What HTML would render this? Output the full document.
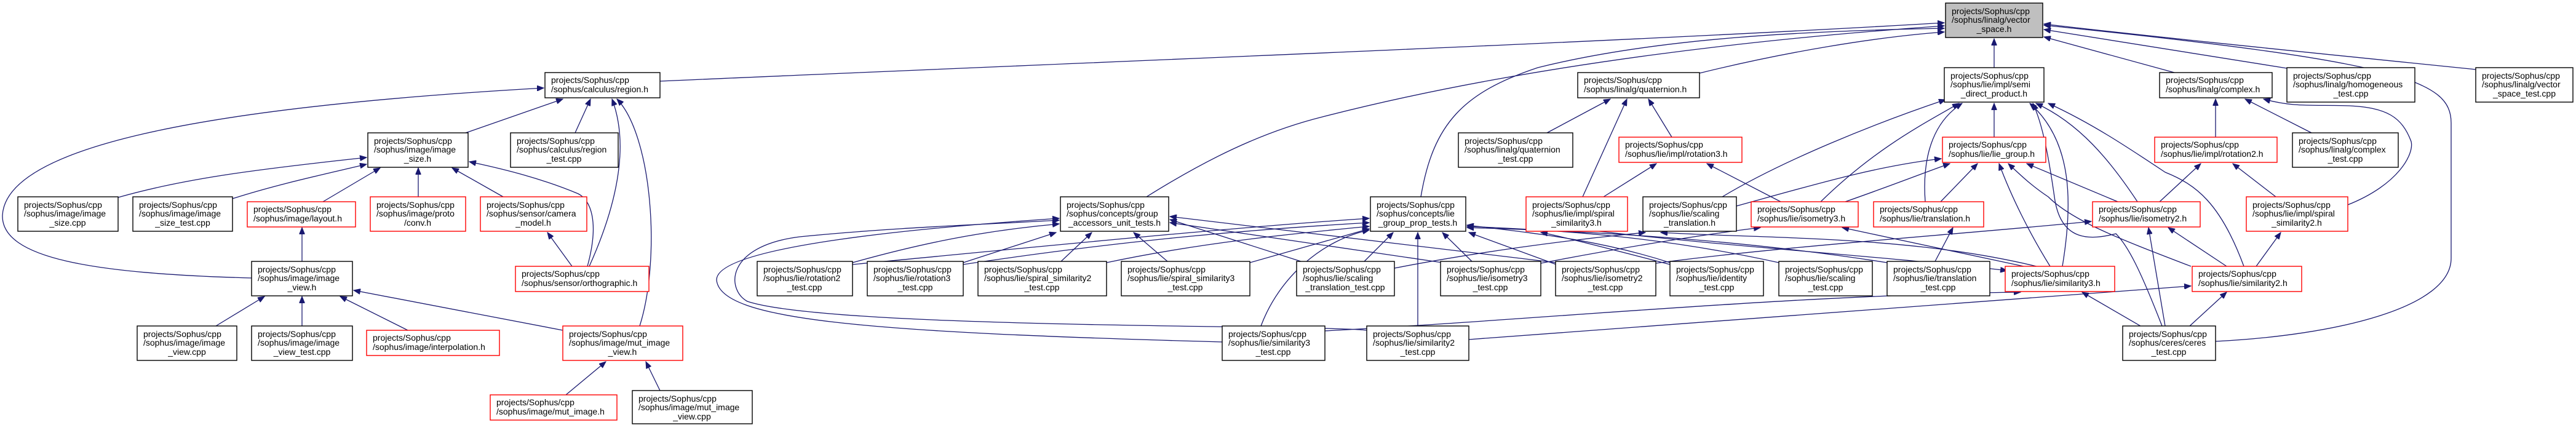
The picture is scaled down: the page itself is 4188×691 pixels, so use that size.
<!DOCTYPE html>
<html><head><meta charset="utf-8"><style>
html,body{margin:0;padding:0;background:#fff;}
svg{display:block;}
text{font-family:"Liberation Sans",sans-serif;font-size:14px;fill:#000;}
.e{fill:none;stroke:#191970;stroke-width:1.3;marker-end:url(#a);}
.b{fill:#fff;stroke:#000;stroke-width:1.4;}
.r{fill:#fff;stroke:#ff0000;stroke-width:1.4;}
.g{fill:#bfbfbf;stroke:#000;stroke-width:1.4;}
</style></head><body>
<svg width="4188" height="691" viewBox="0 0 4188 691" xmlns="http://www.w3.org/2000/svg">
<defs><marker id="a" markerUnits="userSpaceOnUse" markerWidth="12" markerHeight="9" refX="11" refY="4.5" orient="auto"><path d="M0,0 L11,4.5 L0,9 z" fill="#191970" stroke="#191970"/></marker></defs>
<rect width="4188" height="691" fill="#fff"/>
<g>
<!-- edges left cluster -->
<path class="e" d="M409,452 C150,445 2,420 4,350 C10,240 320,175 884,143"/>
<path class="e" d="M757,216 L915,161"/>
<path class="e" d="M935,216 L960,161"/>
<path class="e" d="M958,433 C1000,340 1025,240 995,161"/>
<path class="e" d="M1040,530 C1075,420 1060,220 1003,161"/>
<path class="e" d="M192,321 C300,290 420,275 596,256"/>
<path class="e" d="M378,323 C450,300 520,285 596,267"/>
<path class="e" d="M525,328 L618,273"/>
<path class="e" d="M680,320 L680,273"/>
<path class="e" d="M818,320 L735,273"/>
<path class="e" d="M955,433 C975,360 960,325 940,315 C880,290 820,275 763,263"/>
<path class="e" d="M930,433 L890,378"/>
<path class="e" d="M491,425 L491,370"/>
<path class="e" d="M351,530 L430,482"/>
<path class="e" d="M491,530 L491,482"/>
<path class="e" d="M663,537 L553,482"/>
<path class="e" d="M915,537 L575,472"/>
<path class="e" d="M920,642 L985,588"/>
<path class="e" d="M1073,635 L1050,588"/>
<!-- to vector_space -->
<path class="e" d="M1073,132 C1800,100 2600,70 3161,37"/>
<path class="e" d="M1864,320 C1960,260 2050,215 2150,190 C2500,100 2900,60 3161,42"/>
<path class="e" d="M2310,320 C2330,200 2380,150 2500,110 C2700,60 2950,50 3161,46"/>
<path class="e" d="M2763,119 C2900,85 3050,60 3161,52"/>
<path class="e" d="M3242,110 L3242,63"/>
<path class="e" d="M3535,118 L3323,60"/>
<path class="e" d="M3718,111 L3323,48"/>
<path class="e" d="M4025,113 C3800,90 3500,60 3323,39"/>
<path class="e" d="M3602,555 C3800,545 3985,500 3985,420 L3985,200 C3985,130 3900,100 3323,41"/>
<!-- group accessors -->
<path class="e" d="M1386,427 C1500,395 1600,375 1722,364"/>
<path class="e" d="M1566,427 L1717,378"/>
<path class="e" d="M1725,425 L1775,378"/>
<path class="e" d="M1898,425 L1843,378"/>
<path class="e" d="M1987,556 C1400,540 1170,520 1165,455 C1165,400 1500,370 1722,355"/>
<path class="e" d="M2222,537 C2150,528 1350,535 1215,490 C1180,470 1180,400 1300,385 C1450,370 1600,365 1722,358"/>
<path class="e" d="M2115,425 L1902,357"/>
<path class="e" d="M2345,427 L1902,362"/>
<path class="e" d="M2530,427 L1902,352"/>
<!-- lie_group_prop_tests -->
<path class="e" d="M1386,430 C1700,400 2000,370 2226,355"/>
<path class="e" d="M1566,430 C1800,395 2000,375 2226,362"/>
<path class="e" d="M1799,427 C1950,395 2100,380 2226,368"/>
<path class="e" d="M2032,427 L2226,372"/>
<path class="e" d="M2050,530 C2080,450 2150,390 2226,374"/>
<path class="e" d="M2218,425 L2265,378"/>
<path class="e" d="M2393,425 L2345,378"/>
<path class="e" d="M2305,530 L2305,378"/>
<path class="e" d="M2530,430 L2388,378"/>
<path class="e" d="M2715,427 C2600,390 2500,380 2385,366"/>
<path class="e" d="M2892,427 C2700,385 2550,375 2385,368"/>
<path class="e" d="M3068,427 C2800,385 2550,375 2385,370"/>
<!-- quaternion -->
<path class="e" d="M2515,216 L2618,161"/>
<path class="e" d="M2573,320 L2645,161"/>
<path class="e" d="M2718,223 L2680,161"/>
<path class="e" d="M2607,320 L2693,266"/>
<path class="e" d="M2895,328 L2775,266"/>
<!-- semi direct & lie group -->
<path class="e" d="M2800,320 C2900,260 3050,200 3163,162"/>
<path class="e" d="M2823,335 C2950,300 3050,270 3156,258"/>
<path class="e" d="M2960,328 C3050,240 3130,200 3185,168"/>
<path class="e" d="M3000,328 C3080,300 3130,280 3170,266"/>
<path class="e" d="M3130,328 C3125,260 3140,200 3190,168"/>
<path class="e" d="M3155,328 L3215,266"/>
<path class="e" d="M3242,223 L3242,168"/>
<path class="e" d="M3333,433 C3300,380 3270,320 3250,266"/>
<path class="e" d="M3353,433 C3370,330 3370,230 3300,168"/>
<path class="e" d="M3443,328 L3295,266"/>
<path class="e" d="M3475,328 C3430,260 3380,200 3310,168"/>
<path class="e" d="M3562,433 C3450,390 3370,360 3330,320 C3300,300 3280,280 3265,266"/>
<path class="e" d="M3648,433 C3610,330 3570,300 3520,280 C3460,240 3400,200 3330,168"/>
<!-- complex -->
<path class="e" d="M3602,223 L3602,161"/>
<path class="e" d="M3758,216 L3650,161"/>
<path class="e" d="M3817,333 C3900,300 3925,250 3920,230 C3905,190 3880,175 3820,172 C3760,170 3730,175 3680,161"/>
<path class="e" d="M3511,328 L3578,266"/>
<path class="e" d="M3700,320 L3630,266"/>
<path class="e" d="M3668,433 L3708,378"/>
<path class="e" d="M3620,433 L3525,370"/>
<path class="e" d="M3520,530 L3493,370"/>
<path class="e" d="M3480,530 L3385,475"/>
<path class="e" d="M3560,530 L3620,475"/>
<path class="e" d="M3515,530 C3480,440 3460,400 3440,380 C3400,390 3350,395 3340,320 C3330,250 3320,200 3305,168"/>
<!-- misc -->
<path class="e" d="M2154,538 C2500,520 2900,480 3285,475"/>
<path class="e" d="M2388,552 C2800,520 3200,490 3562,465"/>
<path class="e" d="M2600,376 C2800,400 3100,420 3263,440"/>
<path class="e" d="M3146,425 L3175,370"/>
<path class="e" d="M2505,428 C2650,400 2780,380 2862,370"/>
<path class="e" d="M2692,428 C2900,400 3200,380 3400,360"/>
<path class="e" d="M3290,433 L2995,370"/>
<path class="e" d="M2267,436 C2400,410 2550,390 2675,378"/>
<path class="e" d="M2715,430 C2600,400 2520,380 2505,378"/>
<path class="e" d="M3430,470 C3200,380 2900,390 2700,378"/>
</g>
<g>
<rect class="g" x="3163" y="5" width="158" height="56"/><text x="3173" y="23">projects/Sophus/cpp</text><text x="3173" y="37">/sophus/linalg/vector</text><text x="3242" y="52" text-anchor="middle">_space.h</text>
<rect class="b" x="886" y="118" width="187" height="41"/><text x="896" y="135">projects/Sophus/cpp</text><text x="896" y="150">/sophus/calculus/region.h</text>
<rect class="b" x="598" y="216" width="163" height="56"/><text x="608" y="234">projects/Sophus/cpp</text><text x="608" y="248">/sophus/image/image</text><text x="679" y="263" text-anchor="middle">_size.h</text>
<rect class="b" x="830" y="216" width="175" height="56"/><text x="840" y="234">projects/Sophus/cpp</text><text x="840" y="248">/sophus/calculus/region</text><text x="917" y="263" text-anchor="middle">_test.cpp</text>
<rect class="b" x="29" y="320" width="163" height="56"/><text x="39" y="338">projects/Sophus/cpp</text><text x="39" y="352">/sophus/image/image</text><text x="110" y="367" text-anchor="middle">_size.cpp</text>
<rect class="b" x="216" y="320" width="162" height="56"/><text x="226" y="338">projects/Sophus/cpp</text><text x="226" y="352">/sophus/image/image</text><text x="297" y="367" text-anchor="middle">_size_test.cpp</text>
<rect class="r" x="402" y="328" width="176" height="41"/><text x="412" y="345">projects/Sophus/cpp</text><text x="412" y="360">/sophus/image/layout.h</text>
<rect class="r" x="602" y="320" width="155" height="56"/><text x="612" y="338">projects/Sophus/cpp</text><text x="612" y="352">/sophus/image/proto</text><text x="679" y="367" text-anchor="middle">/conv.h</text>
<rect class="r" x="781" y="320" width="173" height="56"/><text x="791" y="338">projects/Sophus/cpp</text><text x="791" y="352">/sophus/sensor/camera</text><text x="867" y="367" text-anchor="middle">_model.h</text>
<rect class="r" x="838" y="433" width="217" height="41"/><text x="848" y="450">projects/Sophus/cpp</text><text x="848" y="465">/sophus/sensor/orthographic.h</text>
<rect class="b" x="409" y="425" width="164" height="56"/><text x="419" y="443">projects/Sophus/cpp</text><text x="419" y="457">/sophus/image/image</text><text x="491" y="472" text-anchor="middle">_view.h</text>
<rect class="b" x="223" y="530" width="162" height="56"/><text x="233" y="548">projects/Sophus/cpp</text><text x="233" y="562">/sophus/image/image</text><text x="304" y="577" text-anchor="middle">_view.cpp</text>
<rect class="b" x="409" y="530" width="164" height="56"/><text x="419" y="548">projects/Sophus/cpp</text><text x="419" y="562">/sophus/image/image</text><text x="491" y="577" text-anchor="middle">_view_test.cpp</text>
<rect class="r" x="596" y="537" width="216" height="41"/><text x="606" y="554">projects/Sophus/cpp</text><text x="606" y="569">/sophus/image/interpolation.h</text>
<rect class="r" x="915" y="530" width="195" height="56"/><text x="925" y="548">projects/Sophus/cpp</text><text x="925" y="562">/sophus/image/mut_image</text><text x="1012" y="577" text-anchor="middle">_view.h</text>
<rect class="r" x="797" y="642" width="206" height="41"/><text x="807" y="659">projects/Sophus/cpp</text><text x="807" y="674">/sophus/image/mut_image.h</text>
<rect class="b" x="1028" y="635" width="195" height="54"/><text x="1038" y="653">projects/Sophus/cpp</text><text x="1038" y="667">/sophus/image/mut_image</text><text x="1125" y="682" text-anchor="middle">_view.cpp</text>
<rect class="b" x="1724" y="320" width="176" height="56"/><text x="1734" y="338">projects/Sophus/cpp</text><text x="1734" y="352">/sophus/concepts/group</text><text x="1812" y="367" text-anchor="middle">_accessors_unit_tests.h</text>
<rect class="b" x="1231" y="425" width="155" height="56"/><text x="1241" y="443">projects/Sophus/cpp</text><text x="1241" y="457">/sophus/lie/rotation2</text><text x="1308" y="472" text-anchor="middle">_test.cpp</text>
<rect class="b" x="1410" y="425" width="156" height="56"/><text x="1420" y="443">projects/Sophus/cpp</text><text x="1420" y="457">/sophus/lie/rotation3</text><text x="1488" y="472" text-anchor="middle">_test.cpp</text>
<rect class="b" x="1590" y="425" width="209" height="56"/><text x="1600" y="443">projects/Sophus/cpp</text><text x="1600" y="457">/sophus/lie/spiral_similarity2</text><text x="1694" y="472" text-anchor="middle">_test.cpp</text>
<rect class="b" x="1823" y="425" width="209" height="56"/><text x="1833" y="443">projects/Sophus/cpp</text><text x="1833" y="457">/sophus/lie/spiral_similarity3</text><text x="1927" y="472" text-anchor="middle">_test.cpp</text>
<rect class="b" x="1987" y="530" width="167" height="56"/><text x="1997" y="548">projects/Sophus/cpp</text><text x="1997" y="562">/sophus/lie/similarity3</text><text x="2070" y="577" text-anchor="middle">_test.cpp</text>
<rect class="b" x="2565" y="118" width="198" height="41"/><text x="2575" y="135">projects/Sophus/cpp</text><text x="2575" y="150">/sophus/linalg/quaternion.h</text>
<rect class="b" x="2371" y="216" width="186" height="56"/><text x="2381" y="234">projects/Sophus/cpp</text><text x="2381" y="248">/sophus/linalg/quaternion</text><text x="2464" y="263" text-anchor="middle">_test.cpp</text>
<rect class="r" x="2632" y="223" width="200" height="41"/><text x="2642" y="240">projects/Sophus/cpp</text><text x="2642" y="255">/sophus/lie/impl/rotation3.h</text>
<rect class="b" x="2228" y="320" width="155" height="56"/><text x="2238" y="338">projects/Sophus/cpp</text><text x="2238" y="352">/sophus/concepts/lie</text><text x="2305" y="367" text-anchor="middle">_group_prop_tests.h</text>
<rect class="r" x="2481" y="320" width="165" height="56"/><text x="2491" y="338">projects/Sophus/cpp</text><text x="2491" y="352">/sophus/lie/impl/spiral</text><text x="2563" y="367" text-anchor="middle">_similarity3.h</text>
<rect class="b" x="2671" y="320" width="152" height="56"/><text x="2681" y="338">projects/Sophus/cpp</text><text x="2681" y="352">/sophus/lie/scaling</text><text x="2747" y="367" text-anchor="middle">_translation.h</text>
<rect class="r" x="2847" y="328" width="174" height="41"/><text x="2857" y="345">projects/Sophus/cpp</text><text x="2857" y="360">/sophus/lie/isometry3.h</text>
<rect class="r" x="3046" y="328" width="179" height="41"/><text x="3056" y="345">projects/Sophus/cpp</text><text x="3056" y="360">/sophus/lie/translation.h</text>
<rect class="b" x="2108" y="425" width="159" height="56"/><text x="2118" y="443">projects/Sophus/cpp</text><text x="2118" y="457">/sophus/lie/scaling</text><text x="2187" y="472" text-anchor="middle">_translation_test.cpp</text>
<rect class="b" x="2342" y="425" width="163" height="56"/><text x="2352" y="443">projects/Sophus/cpp</text><text x="2352" y="457">/sophus/lie/isometry3</text><text x="2423" y="472" text-anchor="middle">_test.cpp</text>
<rect class="b" x="2529" y="425" width="163" height="56"/><text x="2539" y="443">projects/Sophus/cpp</text><text x="2539" y="457">/sophus/lie/isometry2</text><text x="2610" y="472" text-anchor="middle">_test.cpp</text>
<rect class="b" x="2715" y="425" width="152" height="56"/><text x="2725" y="443">projects/Sophus/cpp</text><text x="2725" y="457">/sophus/lie/identity</text><text x="2791" y="472" text-anchor="middle">_test.cpp</text>
<rect class="b" x="2892" y="425" width="152" height="56"/><text x="2902" y="443">projects/Sophus/cpp</text><text x="2902" y="457">/sophus/lie/scaling</text><text x="2968" y="472" text-anchor="middle">_test.cpp</text>
<rect class="b" x="3068" y="425" width="167" height="56"/><text x="3078" y="443">projects/Sophus/cpp</text><text x="3078" y="457">/sophus/lie/translation</text><text x="3151" y="472" text-anchor="middle">_test.cpp</text>
<rect class="b" x="2222" y="530" width="166" height="56"/><text x="2232" y="548">projects/Sophus/cpp</text><text x="2232" y="562">/sophus/lie/similarity2</text><text x="2305" y="577" text-anchor="middle">_test.cpp</text>
<rect class="b" x="3161" y="110" width="162" height="56"/><text x="3171" y="128">projects/Sophus/cpp</text><text x="3171" y="142">/sophus/lie/impl/semi</text><text x="3242" y="157" text-anchor="middle">_direct_product.h</text>
<rect class="b" x="3511" y="118" width="183" height="41"/><text x="3521" y="135">projects/Sophus/cpp</text><text x="3521" y="150">/sophus/linalg/complex.h</text>
<rect class="b" x="3718" y="110" width="208" height="56"/><text x="3728" y="128">projects/Sophus/cpp</text><text x="3728" y="142">/sophus/linalg/homogeneous</text><text x="3822" y="157" text-anchor="middle">_test.cpp</text>
<rect class="b" x="4025" y="110" width="158" height="56"/><text x="4035" y="128">projects/Sophus/cpp</text><text x="4035" y="142">/sophus/linalg/vector</text><text x="4104" y="157" text-anchor="middle">_space_test.cpp</text>
<rect class="r" x="3158" y="223" width="168" height="41"/><text x="3168" y="240">projects/Sophus/cpp</text><text x="3168" y="255">/sophus/lie/lie_group.h</text>
<rect class="r" x="3503" y="223" width="199" height="41"/><text x="3513" y="240">projects/Sophus/cpp</text><text x="3513" y="255">/sophus/lie/impl/rotation2.h</text>
<rect class="b" x="3727" y="216" width="172" height="56"/><text x="3737" y="234">projects/Sophus/cpp</text><text x="3737" y="248">/sophus/linalg/complex</text><text x="3813" y="263" text-anchor="middle">_test.cpp</text>
<rect class="r" x="3402" y="328" width="175" height="41"/><text x="3412" y="345">projects/Sophus/cpp</text><text x="3412" y="360">/sophus/lie/isometry2.h</text>
<rect class="r" x="3652" y="320" width="165" height="56"/><text x="3662" y="338">projects/Sophus/cpp</text><text x="3662" y="352">/sophus/lie/impl/spiral</text><text x="3734" y="367" text-anchor="middle">_similarity2.h</text>
<rect class="r" x="3260" y="433" width="178" height="41"/><text x="3270" y="450">projects/Sophus/cpp</text><text x="3270" y="465">/sophus/lie/similarity3.h</text>
<rect class="r" x="3564" y="433" width="178" height="41"/><text x="3574" y="450">projects/Sophus/cpp</text><text x="3574" y="465">/sophus/lie/similarity2.h</text>
<rect class="b" x="3451" y="530" width="151" height="56"/><text x="3461" y="548">projects/Sophus/cpp</text><text x="3461" y="562">/sophus/ceres/ceres</text><text x="3526" y="577" text-anchor="middle">_test.cpp</text>
</g>
</svg>
</body></html>
